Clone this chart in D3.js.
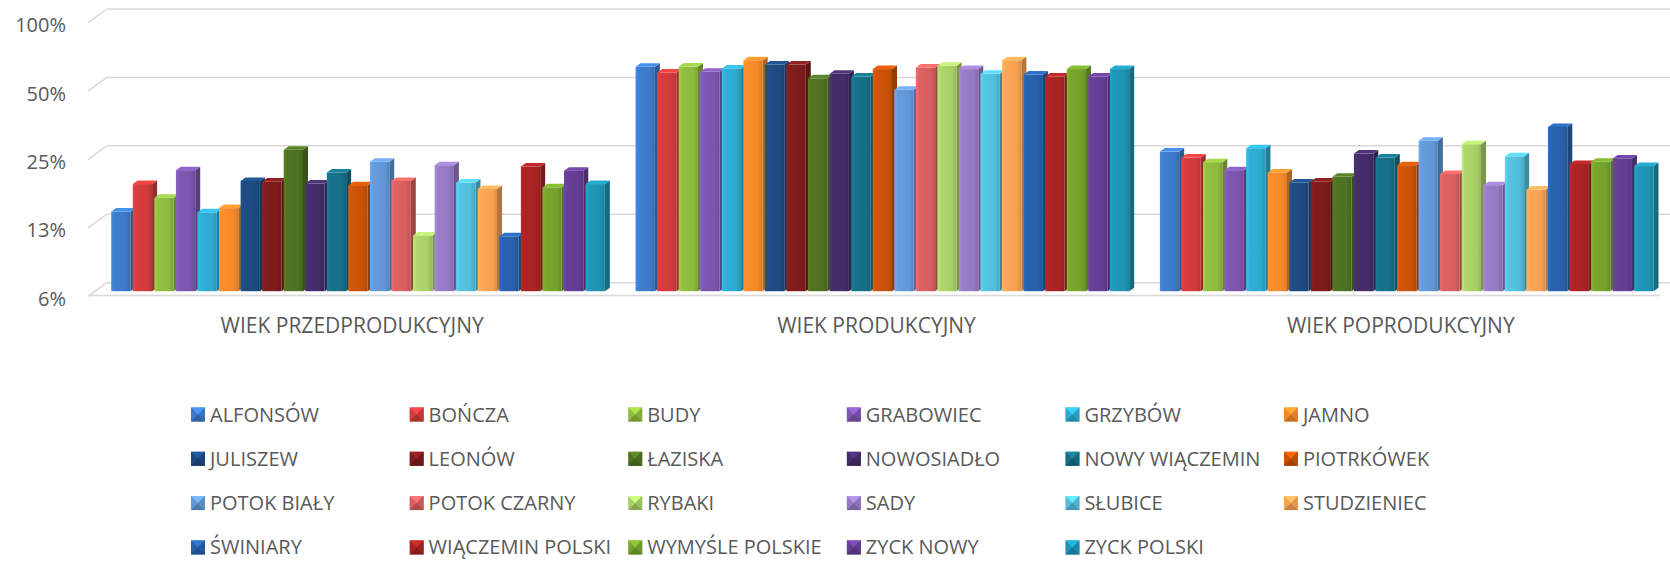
<!DOCTYPE html>
<html>
<head>
<meta charset="utf-8">
<script src="https://cdn.jsdelivr.net/npm/d3@7"></script>
<style>
  html, body { margin: 0; padding: 0; background: #ffffff; }
  svg { display: block; font-family: "Open Sans", "Noto Sans", sans-serif; }
</style>
</head>
<body>
<svg id="chart" width="1670" height="561"></svg>
<script>
// ---------- DATA ----------
const categories = ["WIEK PRZEDPRODUKCYJNY", "WIEK PRODUKCYJNY", "WIEK POPRODUKCYJNY"];
const seriesNames = [
  "ALFONSÓW", "BOŃCZA", "BUDY", "GRABOWIEC", "GRZYBÓW", "JAMNO",
  "JULISZEW", "LEONÓW", "ŁAZISKA", "NOWOSIADŁO", "NOWY WIĄCZEMIN", "PIOTRKÓWEK",
  "POTOK BIAŁY", "POTOK CZARNY", "RYBAKI", "SADY", "SŁUBICE", "STUDZIENIEC",
  "ŚWINIARY", "WIĄCZEMIN POLSKI", "WYMYŚLE POLSKIE", "ZYCK NOWY", "ZYCK POLSKI"
];
// values (%) per category, in series order
const przedprodukcyjny = [14.0, 18.5, 16.1, 21.3, 13.9, 14.5, 19.1, 19.0, 26.2, 18.6, 20.8, 18.3,
                          23.2, 19.1, 11.0, 22.4, 18.8, 17.6, 10.9, 22.1, 17.9, 21.2, 18.5];
const produkcyjny      = [60.7, 57.3, 60.8, 57.7, 59.7, 64.9, 62.1, 62.1, 54.0, 56.5, 55.0, 59.3,
                          48.1, 60.3, 61.3, 59.3, 56.5, 64.9, 56.1, 55.0, 59.3, 55.0, 59.3];
const poprodukcyjny    = [25.7, 24.2, 23.1, 21.3, 26.6, 20.8, 18.8, 19.0, 19.9, 25.2, 24.2, 22.4,
                          28.7, 20.5, 27.7, 18.3, 24.5, 17.5, 33.0, 22.7, 23.2, 24.0, 22.2];
const tickValues = [0.0625, 0.125, 0.25, 0.5, 1];
const tickLabels = ["6%", "13%", "25%", "50%", "100%"];

// ---------- STYLE ----------
const colors = [
  "#3C7AC8", "#D13B3B", "#8DBA3F", "#7B55AE", "#2DAAD0", "#F5892A",
  "#1E4A80", "#7D1C1C", "#4D7121", "#432C68", "#156F86", "#C95206",
  "#6297D6", "#D75F5F", "#A9CF68", "#9579C2", "#52BEDB", "#F7A153",
  "#2760AA", "#A82323", "#74A22B", "#633E92", "#1E93B3"
];
const textColor = "#595959";
const gridColor = "#D9D9D9";

const valuesByCat = [przedprodukcyjny, produkcyjny, poprodukcyjny];

const svg = d3.select("#chart");
const defs = svg.append("defs");

// wall geometry (3D look)
const backX = 106.7, wallDX = 18.7, wallDY = 13.7, rightX = 1670;
const barOffY = 8.5;           // bar plane below back wall plane
const barDX = 5, barDY = 3.5;  // bar depth

const y = d3.scaleLog().base(2).domain([0.0625, 1]).range([282.7, 9]);
const x0 = d3.scaleBand().domain(categories).range([97, 1670]).paddingInner(0).paddingOuter(0);
const x1 = d3.scaleBand().domain(seriesNames).range([0, x0.bandwidth()]).paddingInner(0).paddingOuter(0.66);
const barW = x1.bandwidth() * 0.895;

// gradients
colors.forEach((c, i) => {
  const g = defs.append("linearGradient").attr("id", "g" + i)
    .attr("x1", "0%").attr("x2", "100%").attr("y1", "0%").attr("y2", "0%");
  const base = d3.color(c);
  g.append("stop").attr("offset", "0%").attr("stop-color", base.brighter(0.35));
  g.append("stop").attr("offset", "18%").attr("stop-color", base.brighter(0.1));
  g.append("stop").attr("offset", "75%").attr("stop-color", base);
  g.append("stop").attr("offset", "100%").attr("stop-color", base.darker(0.35));
});

// ---------- GRID ----------
const grid = svg.append("g");
tickValues.forEach(t => {
  const yy = y(t);
  grid.append("line").attr("x1", backX).attr("x2", rightX).attr("y1", yy).attr("y2", yy)
    .attr("stroke", gridColor).attr("stroke-width", 1.5);
  grid.append("line").attr("x1", backX - wallDX).attr("y1", yy + wallDY).attr("x2", backX).attr("y2", yy)
    .attr("stroke", gridColor).attr("stroke-width", 1.5);
});
grid.append("line").attr("x1", backX - wallDX).attr("x2", 1660)
  .attr("y1", y(0.0625) + wallDY - 1).attr("y2", y(0.0625) + wallDY - 1)
  .attr("stroke", gridColor).attr("stroke-width", 1.5);

// ---------- AXIS ----------
const axis = d3.axisLeft(y).tickValues(tickValues)
  .tickFormat((d, i) => tickLabels[i]).tickSize(0).tickPadding(0);
const ax = svg.append("g").attr("transform", "translate(66,15.5)").call(axis);
ax.select(".domain").remove();
ax.selectAll("text").attr("fill", textColor).attr("font-size", 20)
  .attr("font-family", "'Open Sans', sans-serif").attr("dy", "0.36em");

// ---------- BARS ----------
const bars = svg.append("g");
categories.forEach((cat, ci) => {
  const gx = x0(cat);
  seriesNames.forEach((name, si) => {
    const v = valuesByCat[ci][si] / 100;
    const xL = gx + x1(name);
    const yT = y(v) + barOffY;
    const yB = y(0.0625) + barOffY;
    const c = d3.color(colors[si]);
    const g = bars.append("g");
    // side
    g.append("path")
      .attr("d", `M${xL + barW},${yT} L${xL + barW + barDX},${yT - barDY} L${xL + barW + barDX},${yB - barDY} L${xL + barW},${yB} Z`)
      .attr("fill", c.darker(0.9));
    // front
    g.append("rect").attr("x", xL).attr("y", yT).attr("width", barW).attr("height", yB - yT)
      .attr("fill", `url(#g${si})`);
    // top
    g.append("path")
      .attr("d", `M${xL},${yT} L${xL + barDX},${yT - barDY} L${xL + barW + barDX},${yT - barDY} L${xL + barW},${yT} Z`)
      .attr("fill", c.brighter(0.45));
  });
});

// ---------- CATEGORY LABELS ----------
svg.append("g").selectAll("text").data(categories).join("text")
  .attr("x", d => x0(d) + x0.bandwidth() / 2 - 7)
  .attr("y", 333)
  .attr("text-anchor", "middle")
  .attr("fill", textColor)
  .attr("font-size", 21)
  .text(d => d);

// ---------- LEGEND ----------
const leg = svg.append("g");
seriesNames.forEach((name, i) => {
  const col = i % 6, row = Math.floor(i / 6);
  const lx = 191 + col * 218.6, ly = 414.5 + row * 44.3;
  const c = d3.color(colors[i]);
  const s = 14, x = lx, yy = ly - 7;
  const g = leg.append("g");
  g.append("rect").attr("x", x).attr("y", yy).attr("width", s).attr("height", s).attr("fill", c);
  g.append("path").attr("d", `M${x},${yy} L${x + s},${yy} L${x + s / 2},${yy + s / 2} Z`).attr("fill", c.brighter(0.6));
  g.append("path").attr("d", `M${x},${yy + s} L${x + s},${yy + s} L${x + s / 2},${yy + s / 2} Z`).attr("fill", c.darker(0.6));
  g.append("path").attr("d", `M${x + s},${yy} L${x + s},${yy + s} L${x + s / 2},${yy + s / 2} Z`).attr("fill", c.darker(0.2));
  g.append("text").attr("x", lx + 19).attr("y", ly + 7)
    .attr("fill", textColor).attr("font-size", 20).text(name);
});
</script>
</body>
</html>
